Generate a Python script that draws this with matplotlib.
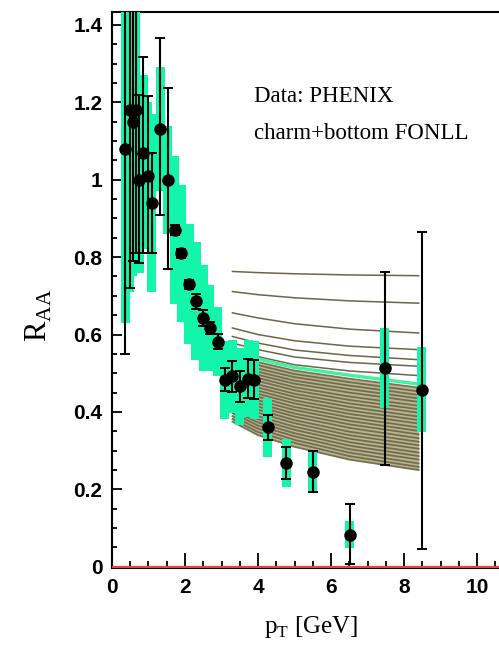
import numpy as np
import matplotlib.pyplot as plt
from matplotlib.ticker import MultipleLocator, FuncFormatter

# PHENIX heavy-flavour electrons
pt = [0.37, 0.48, 0.57, 0.65, 0.75, 0.86, 0.98, 1.09, 1.32, 1.53,
      1.72, 1.90, 2.11, 2.30, 2.50, 2.68, 2.90, 3.09, 3.30, 3.50,
      3.73, 3.90, 4.26, 4.77, 5.50, 6.51, 7.47, 8.48]
raa = [1.08, 1.18, 1.15, 1.18, 1.00, 1.07, 1.01, 0.94, 1.13, 1.00,
       0.87, 0.81, 0.73, 0.686, 0.643, 0.617, 0.582, 0.483, 0.492, 0.466,
       0.486, 0.483, 0.36, 0.268, 0.246, 0.083, 0.513, 0.457]
stat_lo = [0.53, 0.46, 0.36, 0.37, 0.215, 0.26, 0.20, 0.13, 0.22, 0.23,
           0.012, 0.012, 0.012, 0.02, 0.02, 0.015, 0.02, 0.03, 0.04, 0.04,
           0.05, 0.05, 0.032, 0.041, 0.054, 0.076, 0.249, 0.411]
stat_hi = [1.0, 1.0, 1.0, 1.0, 0.22, 0.247, 0.205, 0.13, 0.236, 0.237,
           0.012, 0.012, 0.012, 0.02, 0.02, 0.015, 0.02, 0.03, 0.04, 0.04,
           0.05, 0.05, 0.032, 0.041, 0.054, 0.08, 0.248, 0.409]
sys_err = [0.45, 0.47, 0.40, 0.40, 0.24, 0.20, 0.19, 0.23, 0.16, 0.14,
           0.19, 0.177, 0.155, 0.152, 0.136, 0.11, 0.09, 0.10, 0.095, 0.10,
           0.10, 0.10, 0.077, 0.063, 0.055, 0.035, 0.103, 0.11]

# charm+bottom FONLL curves, sampled at curve_pt
curve_pt = [3.3, 4.0, 5.0, 6.5, 8.4]
upper_curves = [
    [0.763, 0.760, 0.757, 0.754, 0.752],
    [0.711, 0.703, 0.695, 0.687, 0.681],
    [0.656, 0.643, 0.628, 0.614, 0.604],
    [0.617, 0.600, 0.584, 0.570, 0.561],
    [0.595, 0.578, 0.560, 0.546, 0.535],
    [0.578, 0.561, 0.542, 0.528, 0.518],
    [0.561, 0.543, 0.522, 0.506, 0.494],
]
green_curve = [0.550, 0.537, 0.515, 0.495, 0.472]
dense_curves = [
    [0.543, 0.529, 0.507, 0.486, 0.463],
    [0.535, 0.521, 0.498, 0.477, 0.453],
    [0.528, 0.512, 0.490, 0.468, 0.444],
    [0.521, 0.504, 0.481, 0.459, 0.435],
    [0.514, 0.496, 0.473, 0.450, 0.426],
    [0.506, 0.488, 0.464, 0.440, 0.416],
    [0.499, 0.480, 0.456, 0.431, 0.407],
    [0.492, 0.471, 0.447, 0.422, 0.398],
    [0.484, 0.463, 0.439, 0.413, 0.388],
    [0.477, 0.455, 0.430, 0.404, 0.379],
    [0.470, 0.447, 0.422, 0.395, 0.370],
    [0.462, 0.439, 0.413, 0.386, 0.360],
    [0.455, 0.430, 0.405, 0.377, 0.351],
    [0.448, 0.422, 0.396, 0.368, 0.342],
    [0.440, 0.414, 0.388, 0.359, 0.332],
    [0.433, 0.406, 0.379, 0.349, 0.323],
    [0.426, 0.398, 0.371, 0.340, 0.314],
    [0.419, 0.389, 0.362, 0.331, 0.305],
    [0.411, 0.381, 0.354, 0.322, 0.295],
    [0.404, 0.373, 0.345, 0.313, 0.286],
    [0.397, 0.365, 0.337, 0.304, 0.277],
    [0.389, 0.357, 0.328, 0.295, 0.267],
    [0.382, 0.348, 0.320, 0.286, 0.258],
    [0.375, 0.340, 0.310, 0.277, 0.250],
]

band_col = '#14f5ac'
curve_col = '#6b6646'

fig = plt.figure(figsize=(4.99, 6.5), dpi=100)
ax = fig.add_axes([0.2244, 0.1262, 0.7756, 0.8546])

# dense part of the curve family looks like a filled olive band
ax.fill_between(curve_pt, dense_curves[0], dense_curves[-1],
                color='#b9b592', lw=0, zorder=1)
for c in dense_curves:
    ax.plot(curve_pt, c, color=curve_col, lw=1.3, alpha=0.9, zorder=1)
for c in upper_curves:
    ax.plot(curve_pt, c, color=curve_col, lw=1.1, zorder=1)
ax.plot(curve_pt, green_curve, color='#40f2a0', lw=2.4, zorder=2)

# systematic boxes
sys_arr = np.array(sys_err)
raa_arr = np.array(raa)
ax.bar(pt, 2 * sys_arr, width=0.25, bottom=raa_arr - sys_arr,
       color=band_col, lw=0, zorder=3)

ax.errorbar(pt, raa, yerr=[stat_lo, stat_hi], fmt='o', color='black',
            ms=8, elinewidth=1.5, capsize=3.6, capthick=1.4, zorder=4)

ax.axhline(0, color='#e8413f', lw=1.6, zorder=5)

ax.set_xlim(0, 10.6)
ax.set_ylim(-0.003, 1.432)

ax.spines['right'].set_visible(False)
for s in ['left', 'bottom', 'top']:
    ax.spines[s].set_linewidth(1.5)

ax.xaxis.set_major_locator(MultipleLocator(2))
ax.xaxis.set_minor_locator(MultipleLocator(0.5))
ax.yaxis.set_major_locator(MultipleLocator(0.2))
ax.yaxis.set_minor_locator(MultipleLocator(0.05))
ax.yaxis.set_major_formatter(FuncFormatter(lambda v, p: '%g' % round(v, 2)))
ax.tick_params(which='both', direction='in', top=False, right=False, width=1.3)
ax.tick_params(axis='x', which='major', length=11, pad=7)
ax.tick_params(axis='x', which='minor', length=5)
ax.tick_params(axis='y', which='major', length=7, pad=7)
ax.tick_params(axis='y', which='minor', length=3.5)
for lab in ax.get_xticklabels() + ax.get_yticklabels():
    lab.set_fontfamily('Liberation Sans')
    lab.set_fontweight('bold')
    lab.set_fontsize(15)

ax.set_xlabel(r'p$_\mathregular{T}$ [GeV]', family='Liberation Serif', fontsize=18)
ax.set_ylabel(r'R$_\mathregular{AA}$', family='Liberation Serif', fontsize=22)
ax.xaxis.set_label_coords(0.515, -0.083)
ax.yaxis.set_label_coords(-0.15, 0.455)

fig.text(254 / 499, 1 - 101.7 / 650, 'Data: PHENIX', family='Liberation Serif',
         fontsize=16.5, va='baseline')
fig.text(254 / 499, 1 - 139 / 650, 'charm+bottom FONLL', family='Liberation Serif',
         fontsize=16.5, va='baseline')

fig.savefig('out.png', dpi=100)
